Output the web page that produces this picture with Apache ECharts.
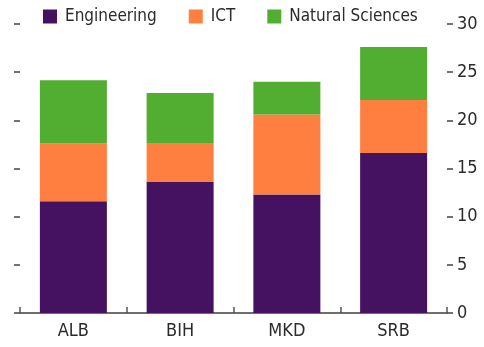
<!DOCTYPE html>
<html>
<head>
<meta charset="utf-8">
<script src="https://cdn.jsdelivr.net/npm/echarts@6/dist/echarts.min.js"></script>
<style>
  html, body { margin: 0; padding: 0; background: #fff; }
  #chart { width: 484px; height: 347px; }
</style>
</head>
<body>
<div id="chart"></div>
<script>
// Graduates by field, stacked per country
const countries = ['ALB', 'BIH', 'MKD', 'SRB'];
const engineering = [11.6, 13.6, 12.3, 16.6];
const ict = [6.0, 4.05, 8.3, 5.5];
const naturalSciences = [6.55, 5.2, 3.4, 5.5];
const yTicks = [0, 5, 10, 15, 20, 25, 30];

const FONT = '"DejaVu Sans Condensed", "Liberation Sans", sans-serif';
const TEXT = '#2b2b2b';

const chart = echarts.init(document.getElementById('chart'));

function barSeries(name, data, color) {
  return {
    name: name,
    type: 'bar',
    stack: 'total',
    yAxisIndex: 1,
    data: data,
    barWidth: 67,
    itemStyle: { color: color },
    emphasis: { disabled: true }
  };
}

chart.setOption({
  animation: false,
  textStyle: { fontFamily: FONT },
  legend: {
    left: 43,
    top: 8,
    padding: 0,
    itemWidth: 14,
    itemHeight: 14,
    itemGap: 32,
    icon: 'rect',
    textStyle: { fontFamily: FONT, fontSize: 17, color: TEXT, padding: [0, 0, 0, 3] },
    data: ['Engineering', 'ICT', 'Natural Sciences']
  },
  grid: { left: 20, right: 37, top: 24, bottom: 34 },
  xAxis: {
    type: 'category',
    data: countries,
    axisLine: { lineStyle: { color: '#6e6e6e', width: 2 } },
    axisTick: { show: true, inside: true, length: 6, lineStyle: { color: '#555', width: 1.5 } },
    axisLabel: { fontFamily: FONT, fontSize: 18, color: TEXT, margin: 9 }
  },
  yAxis: [
    {
      type: 'value',
      position: 'left',
      min: yTicks[0],
      max: yTicks[yTicks.length - 1],
      interval: 5,
      axisLine: { show: false },
      axisTick: { show: true, length: 6, lineStyle: { color: '#444', width: 1.5 } },
      axisLabel: { show: false },
      splitLine: { show: false }
    },
    {
      type: 'value',
      position: 'right',
      min: yTicks[0],
      max: yTicks[yTicks.length - 1],
      interval: 5,
      axisLine: { show: false },
      axisTick: { show: true, length: 6, lineStyle: { color: '#444', width: 1.5 } },
      axisLabel: { fontFamily: FONT, fontSize: 18, color: TEXT, margin: 10 },
      splitLine: { show: false }
    }
  ],
  series: [
    barSeries('Engineering', engineering, '#451262'),
    barSeries('ICT', ict, '#fe7f40'),
    barSeries('Natural Sciences', naturalSciences, '#51ae31')
  ]
});
</script>
</body>
</html>
